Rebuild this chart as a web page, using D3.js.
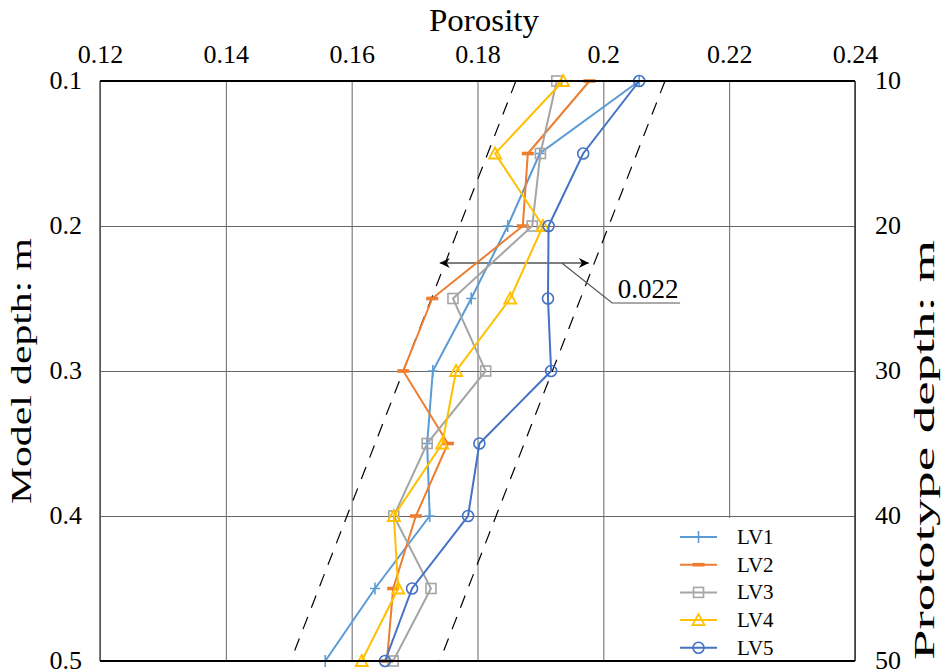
<!DOCTYPE html>
<html>
<head>
<meta charset="utf-8">
<script src="https://cdn.jsdelivr.net/npm/d3@7"></script>
<style>
  body { margin: 0; background: #fff; }
  text { font-family: "Liberation Serif", "Times New Roman", serif; fill: #000; }
</style>
</head>
<body>
<svg width="945" height="670"></svg>
<script>
// depths (m) where porosity was measured
var depths = [0.1, 0.15, 0.2, 0.25, 0.3, 0.35, 0.4, 0.45, 0.5]
var lv1 = [0.2057, 0.1899, 0.1848, 0.1790, 0.1729, 0.1720, 0.1724, 0.1637, 0.1558]
var lv2 = [0.1978, 0.1880, 0.1872, 0.1728, 0.1682, 0.1753, 0.1702, 0.1666, 0.1656]
var lv3 = [0.1926, 0.1900, 0.1887, 0.1761, 0.1813, 0.1720, 0.1667, 0.1726, 0.1666]
var lv4 = [0.1936, 0.1828, 0.1904, 0.1852, 0.1766, 0.1744, 0.1667, 0.1674, 0.1616]
var lv5 = [0.2057, 0.1968, 0.1913, 0.1912, 0.1917, 0.1803, 0.1785, 0.1696, 0.1653]
var seriesNames = ["LV1", "LV2", "LV3", "LV4", "LV5"]

// tick labels
var xTicks = [0.12, 0.14, 0.16, 0.18, 0.2, 0.22, 0.24]
var yTicks = [0.1, 0.2, 0.3, 0.4, 0.5]
var protoTicks = [10, 20, 30, 40, 50]

// dashed envelope lines [depth, porosity]
var guideLeft = [[0.1, 0.1861], [0.5, 0.1503]]
var guideRight = [[0.1, 0.2098], [0.5, 0.1740]]
// width annotation
var bandDepth = 0.2255
var bandFrom = 0.1740, bandTo = 0.1977
var bandLabel = "0.022"

var colors = ["#5B9BD5", "#ED7D31", "#A5A5A5", "#FFC000", "#4472C4"]
var markers = ["plus", "dash", "square", "triangle", "circle"]

var svg = d3.select("svg")
var pLeft = 100, pRight = 855, pTop = 81, pBottom = 661

var x = d3.scaleLinear().domain([0.12, 0.24]).range([pLeft, pRight])
var y = d3.scaleLinear().domain([0.1, 0.5]).range([pTop, pBottom])
var y2 = d3.scaleLinear().domain([10, 50]).range([pTop, pBottom])

// grid
var grid = svg.append("g")
grid.append("g")
    .attr("transform", `translate(0, ${pBottom})`)
    .call(d3.axisTop(x).tickValues(xTicks).tickSize(pBottom - pTop).tickFormat(""))
    .call(g => g.select(".domain").remove())
    .selectAll("line").attr("stroke", "#666").attr("stroke-width", 1)
grid.append("g")
    .attr("transform", `translate(${pLeft}, 0)`)
    .call(d3.axisRight(y).tickValues(yTicks).tickSize(pRight - pLeft).tickFormat(""))
    .call(g => g.select(".domain").remove())
    .selectAll("line").attr("stroke", "#666").attr("stroke-width", 1)

// tick labels
var fmt = d => d === 0.2 ? "0.2" : d3.format(".2f")(d)
function styleTicks(g) {
    g.select(".domain").remove()
    g.selectAll("text").attr("font-size", 26).attr("font-family", "Liberation Serif").attr("fill", "#000")
}
svg.append("g")
    .attr("transform", `translate(0, ${pTop - 18})`)
    .call(d3.axisTop(x).tickValues(xTicks).tickSize(0).tickPadding(0).tickFormat(fmt))
    .call(styleTicks)
svg.append("g")
    .attr("transform", `translate(${pLeft - 18}, 0)`)
    .call(d3.axisLeft(y).tickValues(yTicks).tickSize(0).tickPadding(0).tickFormat(d3.format(".1f")))
    .call(styleTicks)
    .selectAll("text").attr("dy", "0.28em")
svg.append("g")
    .attr("transform", `translate(${pRight + 20}, 0)`)
    .call(d3.axisRight(y2).tickValues(protoTicks).tickSize(0).tickPadding(0))
    .call(styleTicks)
    .selectAll("text").attr("dy", "0.28em")

// axis titles
svg.append("text").attr("x", 484).attr("y", 31).attr("text-anchor", "middle")
    .attr("font-size", 32).attr("textLength", 110).attr("lengthAdjust", "spacingAndGlyphs")
    .text("Porosity")
svg.append("text").attr("transform", "translate(31, 371) rotate(-90)").attr("text-anchor", "middle")
    .attr("font-size", 30).attr("textLength", 266).attr("lengthAdjust", "spacingAndGlyphs")
    .text("Model depth: m")
svg.append("text").attr("transform", "translate(934, 450) rotate(-90)").attr("text-anchor", "middle")
    .attr("font-size", 30).attr("textLength", 420).attr("lengthAdjust", "spacingAndGlyphs")
    .text("Prototype depth: m")

// dashed envelope
var guideLine = d3.line().x(d => x(d[1])).y(d => y(d[0]))
;[guideLeft, guideRight].forEach(g => {
    svg.append("path").attr("d", guideLine(g))
        .attr("fill", "none").attr("stroke", "#000").attr("stroke-width", 1.2)
        .attr("stroke-dasharray", "13,10")
})

// width arrow
var defs = svg.append("defs")
defs.append("marker").attr("id", "arr").attr("viewBox", "0 0 10 10")
    .attr("refX", 10).attr("refY", 5).attr("markerWidth", 16).attr("markerHeight", 10)
    .attr("markerUnits", "userSpaceOnUse").attr("orient", "auto-start-reverse")
    .append("path").attr("d", "M0,0 L10,5 L0,10 L3,5 Z").attr("fill", "#000")
svg.append("line")
    .attr("x1", x(bandFrom)).attr("x2", x(bandTo)).attr("y1", y(bandDepth)).attr("y2", y(bandDepth))
    .attr("stroke", "#555").attr("stroke-width", 1.5)
    .attr("marker-start", "url(#arr)").attr("marker-end", "url(#arr)")
var leadX = 0.1934, elbowX = 0.2014, endX = 0.2122, elbowDepth = 0.2531
svg.append("path")
    .attr("d", d3.line()([[x(leadX), y(bandDepth)], [x(elbowX), y(elbowDepth)], [x(endX), y(elbowDepth)]]))
    .attr("fill", "none").attr("stroke", "#555").attr("stroke-width", 1.2)
svg.append("text").attr("x", x(0.2023)).attr("y", y(elbowDepth) - 5)
    .attr("font-size", 27).text(bandLabel)

// series
var allSeries = [lv1, lv2, lv3, lv4, lv5]
var line = d3.line().x(d => x(d.v)).y(d => y(d.d))

function drawMarker(g, type, color) {
    if (type === "plus") {
        g.append("path").attr("d", "M-5,0 H5 M0,-6 V6")
            .attr("stroke", color).attr("stroke-width", 1.6).attr("fill", "none")
    } else if (type === "dash") {
        g.append("rect").attr("x", -6).attr("y", -1.8).attr("width", 12).attr("height", 3.6)
            .attr("fill", color)
    } else if (type === "square") {
        g.append("rect").attr("x", -5).attr("y", -5).attr("width", 10).attr("height", 10)
            .attr("fill", "none").attr("stroke", color).attr("stroke-width", 1.6)
    } else if (type === "triangle") {
        g.append("path").attr("d", "M0,-6 L6,5 L-6,5 Z")
            .attr("fill", "none").attr("stroke", color).attr("stroke-width", 1.8)
    } else {
        g.append("circle").attr("r", 5.5)
            .attr("fill", "none").attr("stroke", color).attr("stroke-width", 1.6)
    }
}

allSeries.forEach((vals, i) => {
    var pts = depths.map((d, k) => ({d: d, v: vals[k]}))
    svg.append("path").attr("d", line(pts))
        .attr("fill", "none").attr("stroke", colors[i]).attr("stroke-width", 2)
    svg.append("g").selectAll("g").data(pts).enter().append("g")
        .attr("transform", p => `translate(${x(p.v)}, ${y(p.d)})`)
        .each(function () { drawMarker(d3.select(this), markers[i], colors[i]) })
})

// legend
var legend = svg.append("g")
legend.append("rect").attr("x", 655).attr("y", 518).attr("width", pRight - 655 - 1).attr("height", pBottom - 518 - 1)
    .attr("fill", "#fff")
seriesNames.forEach((name, i) => {
    var ly = 537 + i * 27.7
    legend.append("line").attr("x1", 680).attr("x2", 717).attr("y1", ly).attr("y2", ly)
        .attr("stroke", colors[i]).attr("stroke-width", 2)
    drawMarker(legend.append("g").attr("transform", `translate(698.5, ${ly})`), markers[i], colors[i])
    legend.append("text").attr("x", 737).attr("y", ly + 7).attr("font-size", 21).text(name)
})

// frame
svg.append("line").attr("x1", pLeft).attr("x2", pLeft).attr("y1", pTop).attr("y2", pBottom)
    .attr("stroke", "#555").attr("stroke-width", 1.5)
svg.append("line").attr("x1", pRight).attr("x2", pRight).attr("y1", pTop).attr("y2", pBottom)
    .attr("stroke", "#333").attr("stroke-width", 1.5)
svg.append("line").attr("x1", pLeft).attr("x2", pRight).attr("y1", pTop).attr("y2", pTop)
    .attr("stroke", "#000").attr("stroke-width", 2)
svg.append("line").attr("x1", pLeft).attr("x2", pRight).attr("y1", pBottom).attr("y2", pBottom)
    .attr("stroke", "#000").attr("stroke-width", 2)
</script>
</body>
</html>
